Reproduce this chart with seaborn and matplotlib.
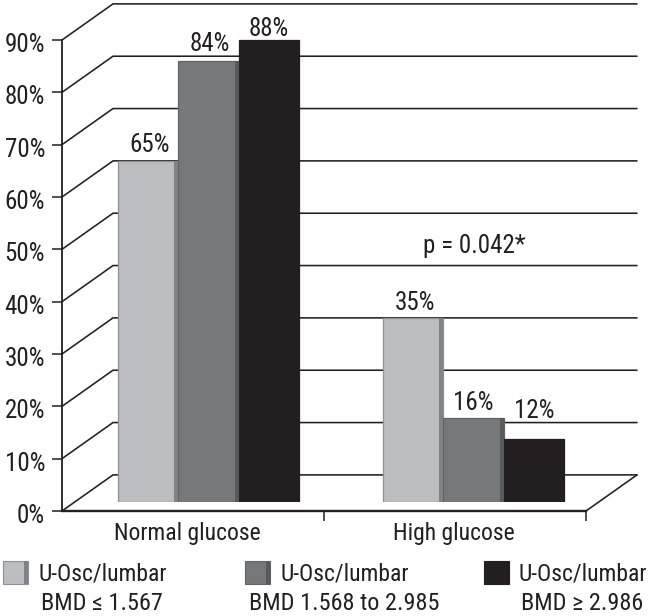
import matplotlib
matplotlib.use("Agg")
import matplotlib.pyplot as plt
from matplotlib.patches import Rectangle
from matplotlib.transforms import ScaledTranslation
import pandas as pd
import seaborn as sns

groups = ["Normal glucose", "High glucose"]
bands = ["BMD \u2264 1.567", "BMD 1.568 to 2.985", "BMD \u2265 2.986"]
normal_values = [65, 84, 88]
high_values = [35, 16, 12]
y_ticks = [0, 10, 20, 30, 40, 50, 60, 70, 80, 90]
bar_colors = ["#bcbdc0", "#77787b", "#231f20"]
side_colors = ["#808285", "#58595b", "#231f20"]
edge_colors = ["#8f9092", "#636466", "#231f20"]
legend_title = "U-Osc/lumbar"
note = "p = 0.042*"

W, H = 649, 616
INK = "#231f20"
FS = 17
FS_NUM = 18
sns.set_theme(style="white")
plt.rcParams["font.family"] = ["Roboto Condensed", "Liberation Sans", "DejaVu Sans"]
plt.rcParams["font.size"] = FS
plt.rcParams["text.color"] = INK


def axes_box(left, top, right, bottom):
    return [left / W, 1 - bottom / H, (right - left) / W, (bottom - top) / H]


fig = plt.figure(figsize=(W / 100, H / 100), dpi=100, facecolor="white")

# Frame: front axis with the receding gridded wall
ax = fig.add_axes(axes_box(62, 40, 586, 511))
ax.set_xlim(0, 2)
ax.set_ylim(0, 90)
ax.patch.set_alpha(0)
depth_x = 51 / 262
depth_y = 6.9
for v in y_ticks:
    ax.plot([0, depth_x, 2 + depth_x], [v, v + depth_y, v + depth_y],
            color=INK, lw=1.15, clip_on=False, solid_joinstyle="miter", zorder=1)
ax.plot([2, 2 + depth_x], [0, depth_y], color=INK, lw=1.15, clip_on=False, zorder=1)

for s in ["top", "right"]:
    ax.spines[s].set_visible(False)
ax.spines["left"].set_linewidth(1.3)
ax.spines["bottom"].set_linewidth(1.7)
ax.spines["left"].set_color(INK)
ax.spines["bottom"].set_color(INK)
ax.spines["left"].set_zorder(3)
ax.spines["bottom"].set_zorder(3)
ax.set_yticks(y_ticks)
ax.set_yticklabels([f"{v}%" for v in y_ticks], fontsize=FS_NUM, color=INK)
ax.tick_params(axis="y", length=7.2, width=1.1, color=INK, pad=5, left=True)
down = ScaledTranslation(0, -2.5 / 100, fig.dpi_scale_trans)
for lab in ax.get_yticklabels():
    lab.set_transform(lab.get_transform() + down)
ax.set_xticks([1, 2])
ax.set_xticklabels([])
ax.tick_params(axis="x", which="major", length=7.2, width=1.1, color=INK, bottom=True)
ax.set_xticks([0.48, 1.496], minor=True)
ax.set_xticklabels(groups, minor=True, fontsize=FS, color=INK)
ax.tick_params(axis="x", which="minor", length=0, pad=8)

# Bars: seated on the middle of the floor
px_per_pct = 5.25
bar_top = 502 - 90 * px_per_pct
ax_bar = fig.add_axes(axes_box(76, bar_top, 606, 502))
ax_bar.patch.set_alpha(0)
df = pd.DataFrame({
    "group": groups * 3,
    "band": [b for b in bands for _ in groups],
    "value": [v for pair in zip(normal_values, high_values) for v in pair],
})
sns.barplot(data=df, x="group", y="value", hue="band", order=groups, hue_order=bands,
            palette=bar_colors, width=0.685, gap=0, saturation=1, legend=False,
            errorbar=None, ax=ax_bar)
ax_bar.set_xlim(-0.5, 1.5)
ax_bar.set_ylim(0, 90)
ax_bar.axis("off")

strip_w = 4 / 265
bars = list(ax_bar.patches)
for i, p in enumerate(bars):
    band_i = i // 2
    p.set_edgecolor(edge_colors[band_i])
    p.set_linewidth(0.9)
    ax_bar.add_patch(Rectangle((p.get_x() + p.get_width() - strip_w, 0), strip_w, p.get_height(),
                               facecolor=side_colors[band_i], edgecolor="none", zorder=p.get_zorder() + 0.1))

# pixel nudges of the value labels, in bar order (65, 35, 84, 16, 88, 12)
label_offsets = [(2, 16), (2.5, 15), (1.5, 17), (0, 15), (0, 11), (0, 28)]
for p, (dx, dy) in zip(bars, label_offsets):
    ax_bar.annotate(f"{p.get_height():.0f}%",
                    (p.get_x() + p.get_width() / 2, p.get_height()),
                    xytext=(dx * 0.72, dy * 0.72), textcoords="offset points",
                    ha="center", va="center", fontsize=FS_NUM, color=INK, annotation_clip=False)

fig.text(474 / W, 1 - 246 / H, note, ha="center", va="center", fontsize=FS_NUM, color=INK)

# Legend
swatch_x = [3, 245, 484]
title_x = [38, 280, 518]
band_cx = [102, 344.5, 582]
for i, band in enumerate(bands):
    fig.add_artist(Rectangle((swatch_x[i] / W, 1 - 584 / H), 25 / W, 23 / H,
                             transform=fig.transFigure, facecolor=bar_colors[i],
                             edgecolor=edge_colors[i], lw=0.8))
    fig.add_artist(Rectangle(((swatch_x[i] + 21) / W, 1 - 584 / H), 4 / W, 23 / H,
                             transform=fig.transFigure, facecolor=side_colors[i], edgecolor="none"))
    fig.text(title_x[i] / W, 1 - 574 / H, legend_title, ha="left", va="center", fontsize=FS, color=INK)
    fig.text(band_cx[i] / W, 1 - 604 / H, band, ha="center", va="center", fontsize=17.5, color=INK)

fig.savefig("out.png", dpi=100, facecolor="white")
